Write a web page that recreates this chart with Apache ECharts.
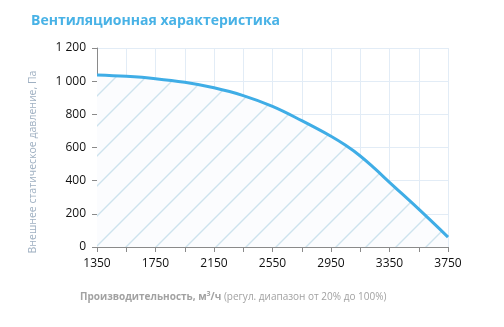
<!DOCTYPE html>
<html>
<head>
<meta charset="utf-8">
<script src="https://cdn.jsdelivr.net/npm/echarts@6/dist/echarts.min.js"></script>
<style>
  html, body { margin: 0; padding: 0; background: #fff; }
  #chart { width: 504px; height: 327px; }
</style>
</head>
<body>
<div id="chart"></div>
<script>
// Fan curve: airflow (m³/h) vs external static pressure (Pa)
const airflow  = [1350, 1550, 1750, 1950, 2150, 2350, 2550, 2750, 2950, 3050, 3150, 3250, 3350, 3550, 3750];
const pressure = [1037, 1029, 1015,  993,  960,  913,  848,  762,  668,  613,  549,  472,  390,  228,   60];

const xMin = 1350, xMax = 3750, xStep = 200, xLabelStep = 400;
const yMin = 0, yMax = 1200, yStep = 200;

const titleText = 'Вентиляционная характеристика';
const yAxisTitle = 'Внешнее статическое давление, Па';
const xAxisTitleBold = 'Производительность, м';
const xAxisTitleRest = ' (регул. диапазон от 20% до 100%)';

// Diagonal hatch used to fill the operating area under the curve
function hatchPattern() {
  const s = 30, k = 13;
  const c = document.createElement('canvas');
  c.width = s; c.height = s;
  const g = c.getContext('2d');
  g.fillStyle = '#fbfcfe';
  g.fillRect(0, 0, s, s);
  g.strokeStyle = '#cde3ee';
  g.lineWidth = 1.4;
  g.beginPath();
  // lines x + y = k and x + y = k + s, extended past the tile edges
  g.moveTo(-3, k + 3); g.lineTo(k + 3, -3);
  g.moveTo(k - 3, s + 3); g.lineTo(s + 3, k - 3);
  g.stroke();
  return c;
}

const chart = echarts.init(document.getElementById('chart'), null, { renderer: 'canvas' });
const font = '"Open Sans", "Liberation Sans", sans-serif';

chart.setOption({
  animation: false,
  textStyle: { fontFamily: font },
  grid: { left: 97, right: 56, top: 48, bottom: 80 },
  title: {
    text: titleText,
    left: 26, top: 9,
    textStyle: { color: '#48b2e6', fontSize: 14, fontWeight: 'bold', fontFamily: font }
  },
  xAxis: {
    type: 'value',
    min: xMin, max: xMax, interval: xStep,
    axisLine: { show: true, lineStyle: { color: '#8a8a8a', width: 1 } },
    axisTick: { show: true, length: 5, lineStyle: { color: '#8a8a8a' } },
    splitLine: { show: true, lineStyle: { color: '#e2ecf6', width: 1 } },
    axisLabel: {
      color: '#111', fontSize: 12, margin: 11, fontFamily: font,
      formatter: v => ((v - xMin) % xLabelStep === 0 ? String(v) : '')
    }
  },
  yAxis: {
    type: 'value',
    min: yMin, max: yMax, interval: yStep,
    axisLine: { show: true, lineStyle: { color: '#8a8a8a', width: 1 } },
    axisTick: { show: true, length: 5, lineStyle: { color: '#8a8a8a' } },
    splitLine: { show: true, lineStyle: { color: '#e2ecf6', width: 1 } },
    axisLabel: {
      color: '#111', fontSize: 12, margin: 11, fontFamily: font,
      formatter: v => String(v).replace(/\B(?=(\d{3})+(?!\d))/g, ' ')
    }
  },
  series: [{
    type: 'line',
    data: airflow.map((x, i) => [x, pressure[i]]),
    smooth: 0.4,
    symbol: 'none',
    lineStyle: { color: '#3fade6', width: 3 },
    areaStyle: { color: { image: hatchPattern(), repeat: 'repeat' }, opacity: 1 }
  }],
  graphic: [
    {
      type: 'text',
      x: 33, y: 162,
      rotation: Math.PI / 2,
      style: {
        text: yAxisTitle,
        fill: '#9fb0c2',
        font: '10.5px ' + font,
        align: 'center', verticalAlign: 'middle'
      }
    },
    {
      type: 'text',
      x: 80, y: 297,
      style: {
        text: '{b|' + xAxisTitleBold + '}{sup|3}{b|/ч}{n|' + xAxisTitleRest + '}',
        verticalAlign: 'middle',
        rich: {
          b: { fill: '#a2a2a2', fontSize: 10, fontWeight: 'bold', fontFamily: font },
          sup: { fill: '#a2a2a2', fontSize: 7, fontWeight: 'bold', fontFamily: font, padding: [0, 0, 7, 0] },
          n: { fill: '#a2a2a2', fontSize: 10, fontFamily: font }
        }
      }
    }
  ]
});
</script>
</body>
</html>
